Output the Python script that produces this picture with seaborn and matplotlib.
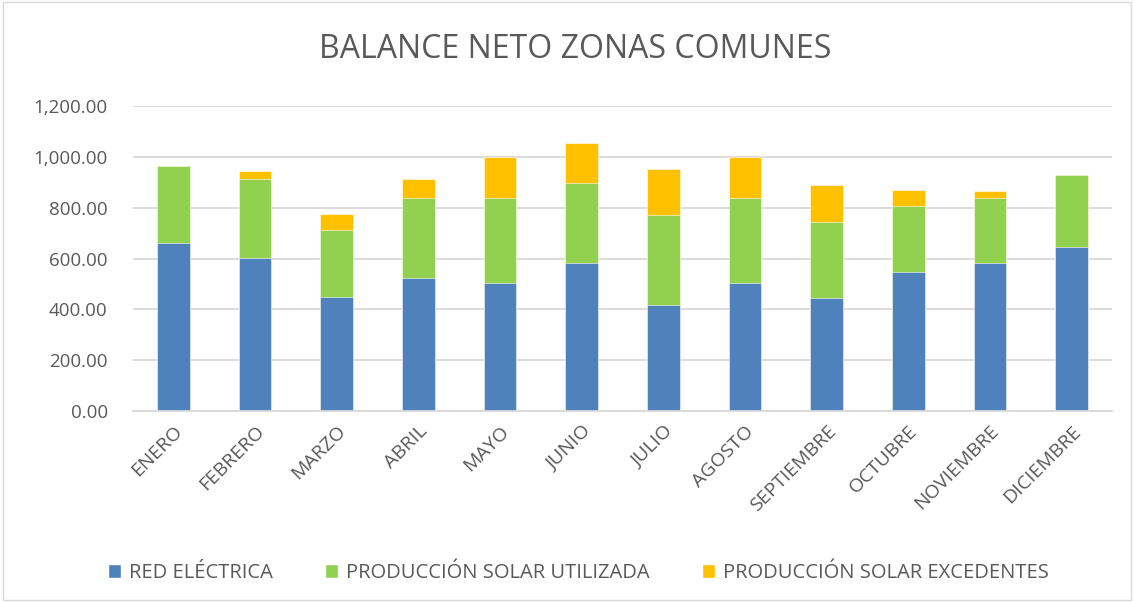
import pandas as pd
import matplotlib
matplotlib.use("Agg")
import matplotlib.pyplot as plt
from matplotlib.patches import Patch
from matplotlib.ticker import FuncFormatter
import seaborn as sns

meses = ["ENERO", "FEBRERO", "MARZO", "ABRIL", "MAYO", "JUNIO", "JULIO",
         "AGOSTO", "SEPTIEMBRE", "OCTUBRE", "NOVIEMBRE", "DICIEMBRE"]
red_electrica = [662, 604, 450, 525, 504, 583, 417, 505, 446, 549, 583, 646]
solar_utilizada = [300, 309, 262, 312, 333, 316, 356, 332, 297, 256, 254, 284]
solar_excedentes = [0, 33, 65, 77, 164, 155, 178, 161, 148, 65, 27, 0]

series = ["RED ELÉCTRICA", "PRODUCCIÓN SOLAR UTILIZADA", "PRODUCCIÓN SOLAR EXCEDENTES"]
colores = ["#4f81bd", "#92d050", "#ffc000"]

df = pd.DataFrame({
    "mes": meses,
    "red": red_electrica,
    "util": solar_utilizada,
    "exc": solar_excedentes,
})
# cumulative tops so the overlapping bars look stacked
df["top_util"] = df["red"] + df["util"]
df["top_exc"] = df["top_util"] + df["exc"]

sns.set_style("white")
plt.rcParams["font.family"] = ["Open Sans", "DejaVu Sans"]

fig = plt.figure(figsize=(11.34, 6.02), dpi=100)
ax = fig.add_axes([0.117, 0.317, 0.864, 0.507])

for col, color in zip(["top_exc", "top_util", "red"], colores[::-1]):
    sns.barplot(data=df, x="mes", y=col, color=color, width=0.40,
                saturation=1, edgecolor="white", linewidth=0.4, ax=ax)

ax.set_ylim(0, 1200)
ax.set_yticks(range(0, 1201, 200))
ax.yaxis.set_major_formatter(FuncFormatter(lambda v, p: f"{v:,.2f}"))
ax.grid(axis="y", color="#d9d9d9", linewidth=1.3)
ax.set_axisbelow(True)
for s in ["left", "right", "top"]:
    ax.spines[s].set_visible(False)
ax.spines["bottom"].set_color("#d9d9d9")
ax.spines["bottom"].set_linewidth(1.3)
ax.set_xlabel("")
ax.set_ylabel("")
ax.tick_params(axis="both", colors="#595959", length=0)
ax.tick_params(axis="y", labelsize=13.5, pad=18)
ax.tick_params(axis="x", labelsize=14, pad=8)
plt.setp(ax.get_xticklabels(), rotation=45, ha="right", rotation_mode="anchor")

fig.text(0.507, 0.917, "BALANCE NETO ZONAS COMUNES", ha="center", va="center",
         fontsize=23, color="#595959")

handles = [Patch(facecolor=c, label=s) for c, s in zip(colores, series)]
fig.legend(handles=handles, loc="center", bbox_to_anchor=(0.51, 0.048), ncol=3,
           frameon=False, fontsize=14.5, labelcolor="#595959", handlelength=0.65,
           handleheight=0.65, handletextpad=0.4, columnspacing=2.6)

fig.patches.append(plt.Rectangle((0.003, 0.003), 0.994, 0.994, transform=fig.transFigure,
                                 fill=False, edgecolor="#d9d9d9", linewidth=1))

fig.savefig("out.png", dpi=100)
